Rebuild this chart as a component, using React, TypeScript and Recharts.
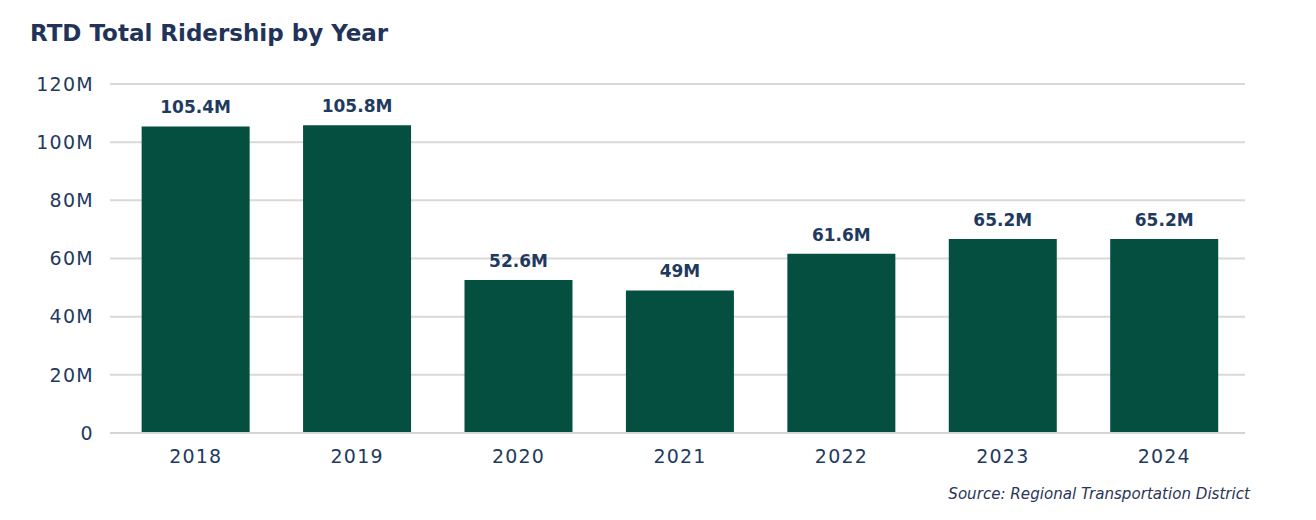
import React from "react"
import { BarChart, Bar, XAxis, YAxis, CartesianGrid, LabelList } from "recharts"

// ridership in millions
const years = ["2018", "2019", "2020", "2021", "2022", "2023", "2024"]
const ridership = [105.4, 105.8, 52.6, 49, 61.6, 66.7, 66.7]
const barLabels = ["105.4M", "105.8M", "52.6M", "49M", "61.6M", "65.2M", "65.2M"]
const yTicks = [0, 20, 40, 60, 80, 100, 120]

const data = years.map((year, i) => ({ year, value: ridership[i], label: barLabels[i] }))

const FONT = "'DejaVu Sans', Verdana, sans-serif"
const NAVY = "#1f3a5f"

export default function App() {
  return (
    <div
      style={{
        position: "fixed",
        top: 0,
        left: 0,
        width: 1316,
        height: 520,
        background: "#fff",
        fontFamily: FONT,
      }}
    >
      <div
        style={{
          position: "absolute",
          left: 30,
          top: 19,
          fontSize: 23,
          fontWeight: 700,
          color: "#22335a",
          lineHeight: "28px",
        }}
      >
        RTD Total Ridership by Year
      </div>

      <div style={{ position: "absolute", left: 0, top: 0 }}>
        <BarChart
          width={1316}
          height={475}
          data={data}
          margin={{ top: 84, right: 71, bottom: 0, left: 0 }}
          barCategoryGap="16.5%"
        >
          <CartesianGrid vertical={false} stroke="#d9d9d9" strokeWidth={2} />
          <XAxis
            dataKey="year"
            padding={{ left: 5, right: 0 }}
            axisLine={{ stroke: "#d4d4d4", strokeWidth: 2 }}
            tickLine={false}
            tickMargin={11}
            height={42}
            tick={{ fill: NAVY, fontSize: 19, fontFamily: FONT, letterSpacing: 1.2 }}
          />
          <YAxis
            width={110}
            domain={[0, 120]}
            ticks={yTicks}
            interval={0}
            axisLine={false}
            tickLine={false}
            tickMargin={10}
            tickFormatter={(v) => (v === 0 ? "0" : `${v}M`)}
            tick={{ fill: NAVY, fontSize: 19, fontFamily: FONT, letterSpacing: 1.3 }}
          />
          <Bar dataKey="value" fill="#054f40" isAnimationActive={false}>
            <LabelList
              dataKey="label"
              position="top"
              offset={13}
              style={{ fill: NAVY, fontSize: 17, fontWeight: 700, fontFamily: FONT }}
            />
          </Bar>
        </BarChart>
      </div>

      <div
        style={{
          position: "absolute",
          right: 66,
          top: 485,
          fontSize: 15.1,
          fontStyle: "italic",
          color: "#2a3558",
        }}
      >
        Source: Regional Transportation District
      </div>
    </div>
  )
}
